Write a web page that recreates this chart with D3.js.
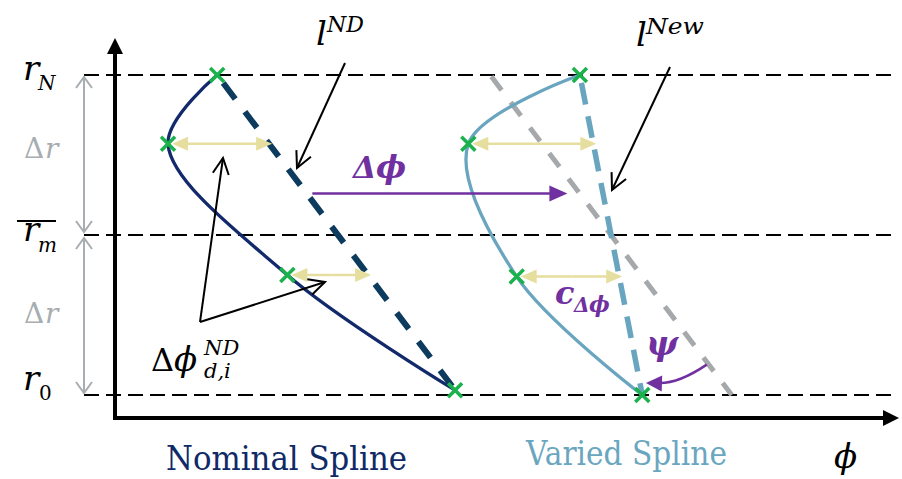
<!DOCTYPE html>
<html>
<head>
<meta charset="utf-8">
<script src="https://cdn.jsdelivr.net/npm/d3@7"></script>
<style>
  body { margin: 0; background: #fff; }
  svg { display: block; }
</style>
</head>
<body>
<svg id="chart" width="902" height="479"></svg>
<script>
// ---- values ----
const rLevels = [0, 1, 2];                 // r0, r_m, r_N
const nominalPhi = [1.31, 0.68, 2.21, 4.36];
const nominalR   = [2.00, 1.57, 0.75, 0.03];
const variedPhi  = [5.96, 4.53, 5.15, 6.76];
const variedR    = [2.00, 1.57, 0.74, 0.00];
const deviationIdx = [1, 2];               // points carrying a Δφ_d,i arrow
const deltaPhi = 3.5;                      // shift of l^ND
const deltaPhiArrow = { r: 1.26, from: 2.53, to: 5.80 };
const psiArc = { rFrom: 0.19, rTo: 0.075 };

const colors = {
  nominal: "#12296b",
  nominalLine: "#0c3b5e",
  varied: "#6aa5bf",
  shifted: "#a6a9ab",
  dev: "#e6de9e",
  cross: "#1bb14c",
  purple: "#7030a0",
  grey: "#a7adb0"
};

const svg = d3.select("#chart");
const x = d3.scaleLinear().domain([0, 10]).range([115, 895]);
const y = d3.scaleLinear().domain([0, 2]).range([395, 75]);

const mathFont = "'DejaVu Serif', serif";

// arrow helper: line with a head at (x2,y2)
function arrow(g, x1, y1, x2, y2, o) {
  const len = o.len || 14, hw = o.hw || 6;
  const dx = x2 - x1, dy = y2 - y1, L = Math.hypot(dx, dy);
  const ux = dx / L, uy = dy / L, nx = -uy, ny = ux;
  const bx = x2 - ux * len, by = y2 - uy * len;
  const endX = o.filled ? bx + ux * 2 : x2, endY = o.filled ? by + uy * 2 : y2;
  g.append("line").attr("x1", x1).attr("y1", y1).attr("x2", endX).attr("y2", endY)
    .attr("stroke", o.color).attr("stroke-width", o.width || 2);
  const pts = [[bx + nx * hw, by + ny * hw], [x2, y2], [bx - nx * hw, by - ny * hw]];
  if (o.filled) {
    g.append("path").attr("d", "M" + pts.join("L") + "Z").attr("fill", o.color);
  } else {
    g.append("path").attr("d", "M" + pts.join("L")).attr("fill", "none")
      .attr("stroke", o.color).attr("stroke-width", o.width || 2);
  }
}
function head(g, x1, y1, x2, y2, o) {
  const len = o.len || 14, hw = o.hw || 6;
  const dx = x2 - x1, dy = y2 - y1, L = Math.hypot(dx, dy);
  const ux = dx / L, uy = dy / L, nx = -uy, ny = ux;
  const bx = x2 - ux * len, by = y2 - uy * len;
  g.append("path").attr("d", `M${bx + nx * hw},${by + ny * hw}L${x2},${y2}L${bx - nx * hw},${by - ny * hw}Z`)
    .attr("fill", o.color);
}

const nominal = nominalPhi.map((p, i) => ({ phi: p, r: nominalR[i] }));
const varied = variedPhi.map((p, i) => ({ phi: p, r: variedR[i] }));

// straight chord between first and last spline points
function chord(pts) {
  const a = pts[0], b = pts[pts.length - 1];
  return r => a.phi + (b.phi - a.phi) * (r - a.r) / (b.r - a.r);
}
const lND = chord(nominal);
const lNew = chord(varied);
const lShift = r => lND(r) + deltaPhi;

// ---- radial level lines ----
svg.append("g").selectAll("line").data(rLevels).join("line")
  .attr("x1", 84).attr("x2", 895)
  .attr("y1", d => y(d)).attr("y2", d => y(d))
  .attr("stroke", "#000").attr("stroke-width", 2)
  .attr("stroke-dasharray", "15 7");

// ---- axes ----
const axes = svg.append("g");
const originY = 418;
arrow(axes, 115, originY + 2, 115, 38, { color: "#000", width: 4, filled: true, len: 16, hw: 8 });
arrow(axes, 113, originY, 899, originY, { color: "#000", width: 4, filled: true, len: 16, hw: 8 });

// ---- Δr arrows ----
const dr = svg.append("g");
arrow(dr, 84, (y(1) + y(2)) / 2, 84, y(2) + 2, { color: colors.grey, width: 2, len: 11, hw: 8 });
arrow(dr, 84, (y(1) + y(2)) / 2, 84, y(1) - 3, { color: colors.grey, width: 2, len: 11, hw: 8 });
arrow(dr, 84, (y(0) + y(1)) / 2, 84, y(1) + 3, { color: colors.grey, width: 2, len: 11, hw: 8 });
arrow(dr, 84, (y(0) + y(1)) / 2, 84, y(0) - 2, { color: colors.grey, width: 2, len: 11, hw: 8 });

// ---- chord lines ----
const rTop = 2, rBot = 0;
svg.append("line")
  .attr("x1", x(lShift(rTop))).attr("y1", y(rTop))
  .attr("x2", x(lShift(rBot))).attr("y2", y(rBot))
  .attr("stroke", colors.shifted).attr("stroke-width", 5)
  .attr("stroke-dasharray", "17 15").attr("stroke-dashoffset", -2);
svg.append("line")
  .attr("x1", x(nominal[0].phi)).attr("y1", y(nominal[0].r))
  .attr("x2", x(nominal[3].phi)).attr("y2", y(nominal[3].r))
  .attr("stroke", colors.nominalLine).attr("stroke-width", 6)
  .attr("stroke-dasharray", "20 16").attr("stroke-dashoffset", -10);
svg.append("line")
  .attr("x1", x(varied[0].phi)).attr("y1", y(varied[0].r))
  .attr("x2", x(varied[3].phi)).attr("y2", y(varied[3].r))
  .attr("stroke", colors.varied).attr("stroke-width", 5.5)
  .attr("stroke-dasharray", "22 12").attr("stroke-dashoffset", -8);

// ---- splines ----
const line = d3.line().x(d => x(d.phi)).y(d => y(d.r)).curve(d3.curveCatmullRom.alpha(0.5));
svg.append("path").datum(nominal).attr("d", line)
  .attr("fill", "none").attr("stroke", colors.nominal).attr("stroke-width", 3.3);
svg.append("path").datum(varied).attr("d", line)
  .attr("fill", "none").attr("stroke", colors.varied).attr("stroke-width", 3.3);

// ---- deviation arrows Δφ_d,i ----
const devG = svg.append("g");
function devArrow(p, chordFn) {
  const x1 = x(p.phi) + 4, x2 = x(chordFn(p.r)) + 3, yy = y(p.r);
  const mid = (x1 + x2) / 2;
  arrow(devG, mid, yy, x2, yy, { color: colors.dev, width: 2.5, filled: true, len: 16, hw: 7 });
  arrow(devG, mid, yy, x1, yy, { color: colors.dev, width: 2.5, filled: true, len: 16, hw: 7 });
}
deviationIdx.forEach(i => { devArrow(nominal[i], lND); devArrow(varied[i], lNew); });

// ---- shift arrow Δφ ----
arrow(svg.append("g"), x(deltaPhiArrow.from), y(deltaPhiArrow.r), x(deltaPhiArrow.to), y(deltaPhiArrow.r),
  { color: colors.purple, width: 2.5, filled: true, len: 18, hw: 8 });

// ---- ψ angle arrow ----
{
  const sx = x(lShift(psiArc.rFrom)) - 2, sy = y(psiArc.rFrom);
  const tx = x(lNew(psiArc.rTo)) + 6, ty = y(psiArc.rTo);
  const cx = tx + 32, cy = ty + 1;
  const g = svg.append("g");
  g.append("path").attr("d", `M${sx},${sy}Q${cx},${cy} ${tx + 12},${ty}`)
    .attr("fill", "none").attr("stroke", colors.purple).attr("stroke-width", 2.5);
  head(g, cx, cy, tx, ty, { color: colors.purple, len: 16, hw: 8 });
}

// ---- crosses ----
const crossG = svg.append("g");
[...nominal, ...varied].forEach(p => {
  const cx = x(p.phi), cy = y(p.r), s = 7;
  crossG.append("path")
    .attr("d", `M${cx - s},${cy - s}L${cx + s},${cy + s}M${cx - s},${cy + s}L${cx + s},${cy - s}`)
    .attr("stroke", colors.cross).attr("stroke-width", 3.5);
});

// ---- pointer arrows ----
const ptr = svg.append("g");
arrow(ptr, 345, 63, 297, 168, { color: "#000", width: 2, len: 16, hw: 8 });
arrow(ptr, 670, 67, 612, 190, { color: "#000", width: 2, len: 16, hw: 8 });
arrow(ptr, 200, 322, 223, 158, { color: "#000", width: 2, len: 16, hw: 8 });
arrow(ptr, 200, 322, 325, 282, { color: "#000", width: 2, len: 16, hw: 8 });

// ---- text ----
function txt(s, tx, ty, o) {
  const t = svg.append("text").attr("x", tx).attr("y", ty).text(s)
    .attr("font-family", o.family || mathFont)
    .attr("font-size", o.size)
    .attr("fill", o.color || "#000");
  if (o.italic) t.attr("font-style", "italic");
  if (o.bold) t.attr("font-weight", "bold");
  if (o.anchor) t.attr("text-anchor", o.anchor);
  if (o.len) t.attr("textLength", o.len).attr("lengthAdjust", "spacingAndGlyphs");
  return t;
}

// radial labels
txt("r", 23, y(2) + 5, { size: 34, italic: true });
txt("N", 38, y(2) + 15, { size: 20, italic: true });
txt("r", 23, y(1) + 6, { size: 34, italic: true });
txt("m", 38, y(1) + 17, { size: 20, italic: true });
svg.append("line").attr("x1", 17).attr("x2", 56).attr("y1", y(1) - 14).attr("y2", y(1) - 14)
  .attr("stroke", "#000").attr("stroke-width", 2);
txt("r", 23, y(0) - 5, { size: 34, italic: true });
txt("0", 39, y(0) + 5, { size: 20 });
txt("Δ", 24, 158, { size: 28, color: colors.grey });
txt("r", 45, 158, { size: 28, italic: true, color: colors.grey });
txt("Δ", 24, 323, { size: 28, color: colors.grey });
txt("r", 45, 323, { size: 28, italic: true, color: colors.grey });

// line labels
txt("l", 316, 45, { size: 34, italic: true });
txt("ND", 327, 32, { size: 22, italic: true });
txt("l", 636, 46, { size: 34, italic: true });
txt("New", 646, 34, { size: 22, italic: true, len: 58 });

// Δφ shift label
txt("Δ", 353, 178, { size: 30, italic: true, bold: true, color: colors.purple });
txt("ϕ", 376, 178, { size: 32, italic: true, bold: true, color: colors.purple });

// deviation label
txt("Δ", 151, 371, { size: 32 });
txt("ϕ", 174, 371, { size: 34, italic: true });
txt("ND", 204, 355, { size: 21, italic: true });
txt("d,i", 204, 378, { size: 21, italic: true });

// constraint labels
txt("c", 555, 304, { size: 32, italic: true, bold: true, color: colors.purple });
txt("Δ", 574, 312, { size: 20, italic: true, bold: true, color: colors.purple });
txt("ϕ", 589, 312, { size: 22, italic: true, bold: true, color: colors.purple });
txt("ψ", 646, 355, { size: 34, italic: true, bold: true, color: colors.purple });

// legends
txt("Nominal Spline", 166, 470, { family: "'DejaVu Serif', serif", size: 34, color: "#0f2a66", len: 241 });
txt("Varied Spline", 526, 465, { family: "'DejaVu Serif', serif", size: 34, color: "#6ba6c0", len: 201 });
txt("ϕ", 834, 468, { size: 34, italic: true });
</script>
</body>
</html>
